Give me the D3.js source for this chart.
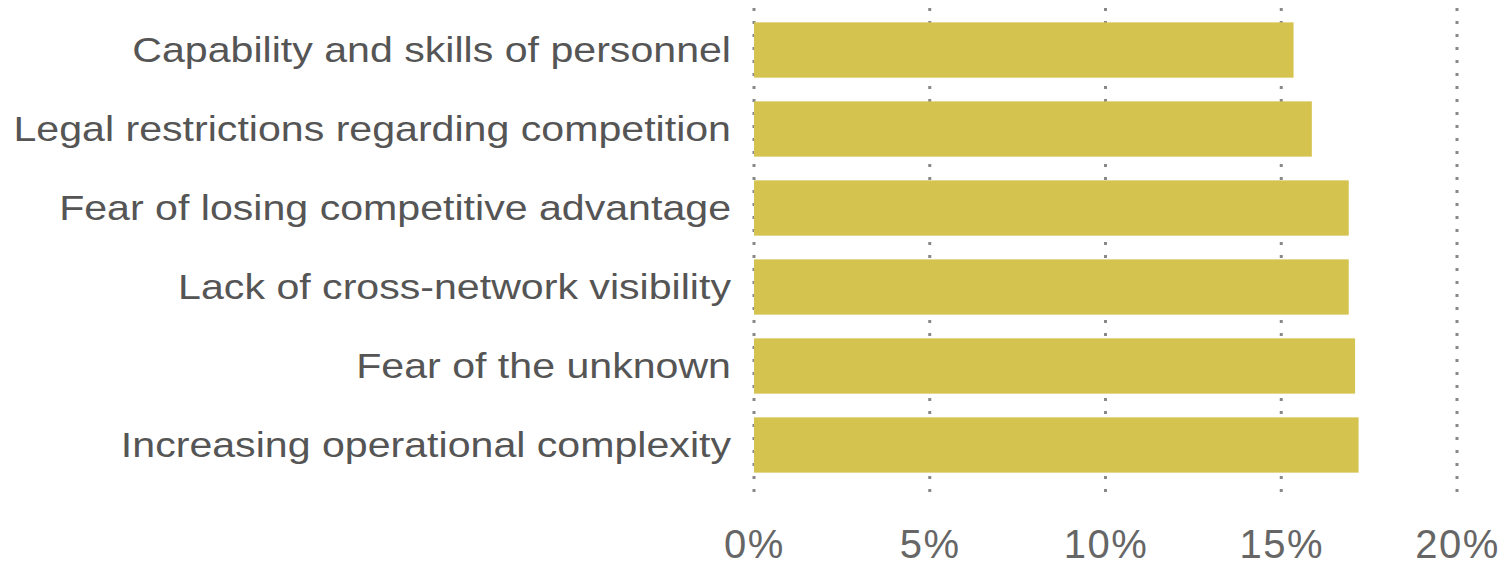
<!DOCTYPE html>
<html>
<head>
<meta charset="utf-8">
<script src="https://cdn.jsdelivr.net/npm/d3@7/dist/d3.min.js"></script>
<style>
  html, body { margin: 0; padding: 0; background: #ffffff; }
  svg { display: block; }
  text { font-family: "Liberation Sans", Arial, Helvetica, sans-serif; }
</style>
</head>
<body>
<svg id="chart" width="1508" height="569"></svg>
<script>
// Barriers, share of respondents (%)
const categories = [
  "Capability and skills of personnel",
  "Legal restrictions regarding competition",
  "Fear of losing competitive advantage",
  "Lack of cross-network visibility",
  "Fear of the unknown",
  "Increasing operational complexity"
];
const values = [15.35, 15.87, 16.92, 16.92, 17.1, 17.2];
const tickValues = [0, 5, 10, 15, 20];
const tickLabels = ["0%", "5%", "10%", "15%", "20%"];

const svg = d3.select("#chart");

const x = d3.scaleLinear().domain([0, 20]).range([754, 1457]);
const y = d3.scaleBand()
  .domain(categories)
  .range([10.5, 484.5])
  .paddingInner(0.3)
  .paddingOuter(0.15);

// dotted vertical gridlines
svg.append("g")
  .selectAll("line")
  .data(tickValues)
  .join("line")
  .attr("x1", d => x(d))
  .attr("x2", d => x(d))
  .attr("y1", 8)
  .attr("y2", 497)
  .attr("stroke", "#888888")
  .attr("stroke-width", 3)
  .attr("stroke-dasharray", "3,10");

// bars
svg.append("g")
  .selectAll("rect")
  .data(categories)
  .join("rect")
  .attr("x", x(0))
  .attr("y", d => y(d))
  .attr("width", (d, i) => x(values[i]) - x(0))
  .attr("height", y.bandwidth())
  .attr("fill", "#d5c350");

// category labels (wide-set type)
svg.append("g")
  .selectAll("text")
  .data(categories)
  .join("text")
  .attr("transform", d => `translate(${x(0) - 23},${y(d) + y.bandwidth() / 2}) scale(1.175,1)`)
  .attr("dy", "0.35em")
  .attr("text-anchor", "end")
  .attr("font-size", 35)
  .attr("fill", "#555555")
  .text(d => d);

// x axis tick labels
const xAxis = d3.axisBottom(x)
  .tickValues(tickValues)
  .tickFormat((d, i) => tickLabels[i])
  .tickSize(0)
  .tickPadding(0);

const axisG = svg.append("g")
  .attr("transform", "translate(0,530)")
  .call(xAxis);
axisG.select(".domain").remove();
axisG.selectAll("text")
  .attr("font-size", 40)
  .attr("letter-spacing", "1.5px")
  .attr("fill", "#666666")
  .attr("font-family", "'Liberation Sans', Arial, Helvetica, sans-serif")
  .attr("dy", "0.71em");
</script>
</body>
</html>
